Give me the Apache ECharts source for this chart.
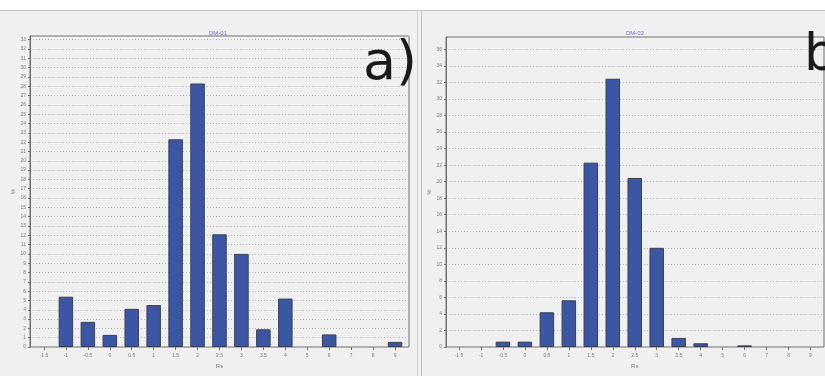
<!DOCTYPE html>
<html>
<head>
<meta charset="utf-8">
<script src="https://cdn.jsdelivr.net/npm/echarts@6/dist/echarts.min.js"></script>
<style>
  html, body { margin: 0; padding: 0; background: #f0f0f0; }
  #chart { width: 825px; height: 376px; }
</style>
</head>
<body>
<div id="chart"></div>
<script>
// Histogram classes (shared by both panels)
const categories = ['-1.5', '-1', '-0.5', '0', '0.5', '1', '1.5', '2', '2.5', '3', '3.5', '4', '5', '6', '7', '8', '9'];

// Frequencies (%) for sample DM-01
const valuesA = [0, 5.4, 2.7, 1.3, 4.1, 4.5, 22.3, 28.3, 12.1, 10.0, 1.9, 5.2, 0, 1.35, 0, 0, 0.55];
// Frequencies (%) for sample DM-02
const valuesB = [0, 0, 0.65, 0.65, 4.2, 5.65, 22.3, 32.45, 20.45, 12.0, 1.1, 0.45, 0, 0.2, 0, 0, 0];

const titleA = 'DM-01';
const titleB = 'DM-02';
const axisNameX = 'Rs';
const axisNameY = '%';

const chart = echarts.init(document.getElementById('chart'), null, { renderer: 'canvas' });

const labelGray = '#7a7a7a';
const frameColor = '#6e6e6e';
const gridLine = { show: true, lineStyle: { color: '#b4b4b4', type: [1, 2], width: 1 } };

function frameYAxis(gridIndex, max, interval) {
  return {
    type: 'value', gridIndex, min: 0, max, interval,
    name: axisNameY, nameLocation: 'middle', nameGap: 12, nameRotate: 90,
    nameTextStyle: { fontSize: 6, color: labelGray },
    axisLine: { show: true, lineStyle: { color: frameColor } },
    axisTick: { show: true, length: 2, lineStyle: { color: frameColor } },
    axisLabel: { fontSize: 5, color: labelGray, margin: 4, showMaxLabel: false },
    splitLine: gridLine
  };
}
function hiddenYAxis(gridIndex, max) {
  return { type: 'value', gridIndex, min: 0, max, show: false, splitLine: { show: false } };
}
function frameXAxis(gridIndex) {
  return { type: 'value', gridIndex, min: 0, max: 1, show: false, splitLine: { show: false } };
}
function catXAxis(gridIndex) {
  return {
    type: 'category', gridIndex, data: categories, boundaryGap: true,
    name: axisNameX, nameLocation: 'middle', nameGap: 15,
    nameTextStyle: { fontSize: 6, color: labelGray },
    axisLine: { show: false },
    axisTick: { show: true, alignWithLabel: true, length: 3, interval: 0, lineStyle: { color: frameColor } },
    axisLabel: { fontSize: 5, color: labelGray, margin: 6, interval: 0 },
    splitLine: { show: false }
  };
}

const barStyle = { color: '#3a56a5', borderColor: '#3b3f4a', borderWidth: 1 };

// Empty classes get no outline so nothing is drawn on the baseline
function barData(values) {
  return values.map(v => v === 0 ? { value: v, itemStyle: { borderWidth: 0, opacity: 0 } } : v);
}

chart.setOption({
  backgroundColor: '#f0f0f0',
  animation: false,
  title: [
    { text: titleA, left: 213, top: 25, textAlign: 'center', textStyle: { fontSize: 6, color: '#6a74c4', fontWeight: 'normal' } },
    { text: titleB, left: 630, top: 25, textAlign: 'center', textStyle: { fontSize: 6, color: '#6a74c4', fontWeight: 'normal' } }
  ],
  grid: [
    // framed plot areas
    { left: 30, top: 36, width: 379, height: 311, show: true, borderColor: frameColor, borderWidth: 1, backgroundColor: 'transparent' },
    { left: 446, top: 37, width: 378, height: 310, show: true, borderColor: frameColor, borderWidth: 1, backgroundColor: 'transparent' },
    // bar layers, inset so that class spacing fits the frame
    { left: 33, top: 36, width: 373, height: 311 },
    { left: 448, top: 37, width: 373.5, height: 310 }
  ],
  xAxis: [frameXAxis(0), frameXAxis(1), catXAxis(2), catXAxis(3)],
  yAxis: [frameYAxis(0, 33.4, 1), frameYAxis(1, 37.5, 2), hiddenYAxis(2, 33.4), hiddenYAxis(3, 37.5)],
  series: [
    { type: 'bar', xAxisIndex: 2, yAxisIndex: 2, data: barData(valuesA), barWidth: '66%', itemStyle: barStyle },
    { type: 'bar', xAxisIndex: 3, yAxisIndex: 3, data: barData(valuesB), barWidth: '66%', itemStyle: barStyle }
  ],
  graphic: [
    { type: 'rect', left: 0, top: 0, shape: { width: 825, height: 10 }, style: { fill: '#ffffff' }, z: -1 },
    { type: 'line', shape: { x1: 0, y1: 10.5, x2: 825, y2: 10.5 }, style: { stroke: '#c4c4c4', lineWidth: 1 } },
    { type: 'line', shape: { x1: 417.5, y1: 10, x2: 417.5, y2: 376 }, style: { stroke: '#d4d4d4', lineWidth: 1 } },
    { type: 'line', shape: { x1: 421.5, y1: 10, x2: 421.5, y2: 376 }, style: { stroke: '#c4c4c4', lineWidth: 1 } },
    { type: 'text', left: 363, top: 38, style: { text: 'a)', fontSize: 54, fill: '#1a1a1a', fontFamily: 'DejaVu Sans', fontWeight: 'normal' }, z: 10 },
    { type: 'text', left: 804, top: 30, style: { text: 'b', fontSize: 52, fill: '#1a1a1a', fontFamily: 'DejaVu Sans', fontWeight: 'normal' }, z: 10 }
  ]
});
</script>
</body>
</html>
